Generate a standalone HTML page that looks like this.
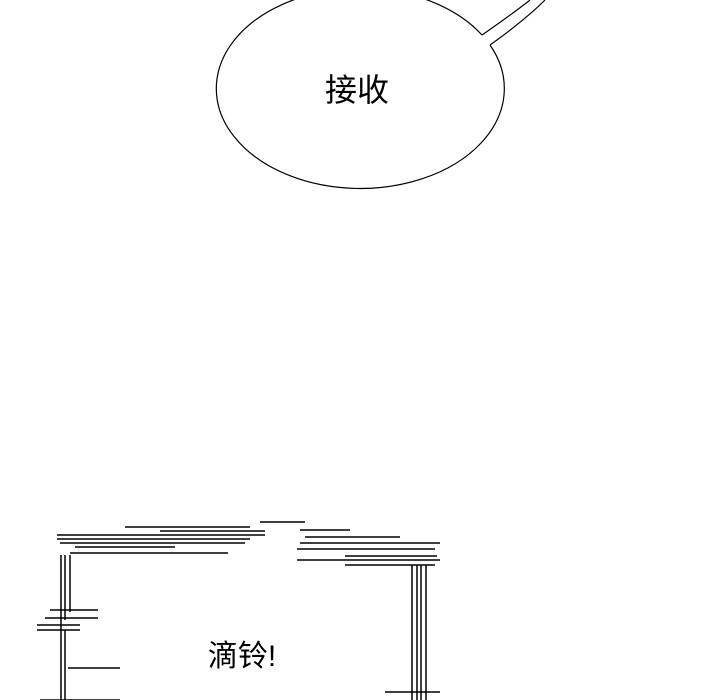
<!DOCTYPE html>
<html><head><meta charset="utf-8"><style>
html,body{margin:0;padding:0;background:#fff;width:720px;height:700px;overflow:hidden}
</style></head><body>
<svg width="720" height="700" viewBox="0 0 720 700" xmlns="http://www.w3.org/2000/svg">
<g fill="none" stroke="#000" stroke-width="1.2">
<path d="M482 35 Q515 12 530 0"/>
<path d="M490 45 Q525 20 545 0"/>
<path d="M482 35 A144 100 0 1 0 490 45"/>
</g>
<text x="357" y="101" font-size="32" text-anchor="middle" font-family="'Liberation Sans','Noto Sans CJK SC',sans-serif">接收</text>
<g stroke="#000" stroke-width="1.5" fill="none">
<path d="M57 535 H265"/><path d="M57 539 H250"/><path d="M60 543 H245"/><path d="M75 547 H175"/><path d="M70 553 H228"/>
<path d="M125 527 H250"/><path d="M160 531 H265"/>
<path d="M260 522 H305"/>
<path d="M300 530 H350"/><path d="M305 537 H400"/><path d="M300 543 H440"/><path d="M297 549 H435"/><path d="M297 560 H440"/><path d="M345 556 H437"/><path d="M345 565 H435"/>
<path d="M61 555 V700"/><path d="M65 555 V620"/><path d="M70 555 V612"/>
<path d="M50 610 H98"/><path d="M45 618 H98"/><path d="M37 625 H80"/><path d="M37 630 H80"/>
<path d="M68 668 H120"/><path d="M40 700 H120"/>
<path d="M65 630 V700"/>
<path d="M412 565 V700"/><path d="M417 565 V700"/><path d="M421 565 V700"/><path d="M426 565 V700"/>
<path d="M385 692 H440"/>
</g>
<text x="242" y="666" font-size="30" text-anchor="middle" font-family="'Liberation Sans','Noto Sans CJK SC',sans-serif">滴铃!</text>
</svg>
</body></html>
